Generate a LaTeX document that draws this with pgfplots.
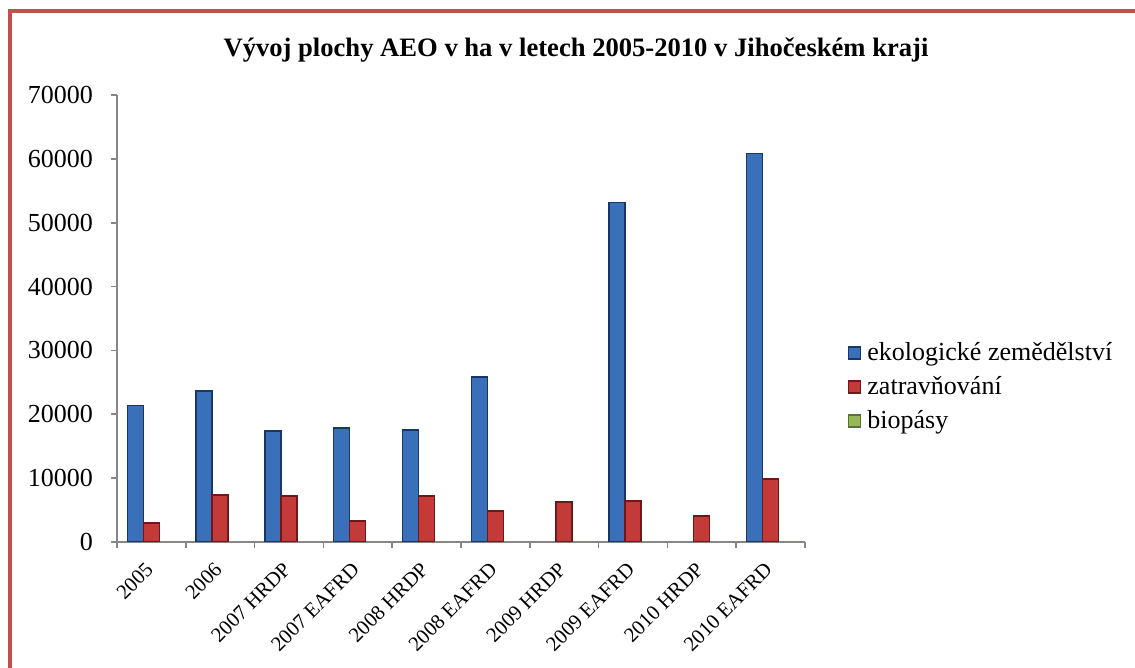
\documentclass[border=0pt]{standalone}
\usepackage{fontspec}
\setmainfont{Liberation Serif}
\usepackage{pgfplots}
\pgfplotsset{compat=1.18}

\definecolor{bluefill}{RGB}{58,112,185}
\definecolor{blueedge}{RGB}{25,55,100}
\definecolor{redfill}{RGB}{196,58,56}
\definecolor{rededge}{RGB}{110,25,25}
\definecolor{greenfill}{RGB}{150,185,85}
\definecolor{greenedge}{RGB}{90,115,45}
\definecolor{framered}{RGB}{192,80,77}
\definecolor{axisgray}{RGB}{134,134,134}

\tikzset{
  bluebar/.style  = {draw=blueedge, fill=bluefill, line width=0.7pt},
  redbar/.style   = {draw=rededge, fill=redfill, line width=0.7pt},
  greenbar/.style = {draw=greenedge, fill=greenfill, line width=0.7pt},
}

\begin{document}
\begin{tikzpicture}
\begin{axis}[
  at={(0,0)}, anchor=south west,
  scale only axis, width=344pt, height=223.5pt,
  ybar=0pt, bar width=8pt,
  xmin=-0.5, xmax=9.5, ymin=0, ymax=70000,
  axis lines=left,
  axis line style={-, axisgray, line width=0.8pt},
  tick align=outside,
  major tick length=3pt,
  tick style={axisgray, line width=0.8pt},
  xtick={-0.5,0.5,...,9.5},
  x tick label as interval,
  xticklabels={2005, 2006, 2007 HRDP, 2007 EAFRD, 2008 HRDP, 2008 EAFRD,
               2009 HRDP, 2009 EAFRD, 2010 HRDP, 2010 EAFRD},
  xticklabel style={font=\fontsize{10.4}{12}\selectfont, xshift=-3.5pt, yshift=-5pt,
                    rotate=45, anchor=north east, inner sep=1pt},
  ytick={0,10000,...,70000},
  scaled y ticks=false,
  /pgf/number format/assume math mode=true,
  yticklabel style={font=\fontsize{13}{15}\selectfont, xshift=-5.5pt,
                    /pgf/number format/.cd, fixed, 1000 sep={}},
  legend style={draw=none, at={(1.062,0.347)}, anchor=west,
                font=\fontsize{13}{15}\selectfont, row sep=2.5pt,
                inner sep=0pt, cells={anchor=west},
                nodes={inner xsep=3pt}},
  legend image code/.code={\draw[#1] (0pt,-3pt) rectangle (6pt,3pt);},
]
\addplot[bluebar] coordinates {
  (0,21400)(1,23650)(2,17400)(3,17850)(4,17550)(5,25850)(7,53200)(9,60850)
};
\addplot[redbar] coordinates {
  (0,2950)(1,7350)(2,7200)(3,3300)(4,7200)(5,4850)(6,6250)(7,6400)(8,4050)(9,9850)
};
\addplot[greenbar, draw=none] coordinates {
  (0,0)(1,0)(2,0)(3,0)(4,0)(5,0)(6,0)(7,0)(8,0)(9,0)
};
\legend{ekologické zemědělství, zatravňování, biopásy}
\end{axis}
\node[font=\bfseries\fontsize{13.3}{15}\selectfont] at (229.5pt,246pt)
  {Vývoj plochy AEO v ha v letech 2005-2010 v Jihočeském kraji};
\draw[framered, line width=2pt] (-53.5pt,-70pt) -- (-53.5pt,265.25pt) -- (520pt,265.25pt);
\pgfresetboundingbox
\path[use as bounding box] (-58.5pt,-63pt) rectangle (509pt,271pt);
\end{tikzpicture}
\end{document}
